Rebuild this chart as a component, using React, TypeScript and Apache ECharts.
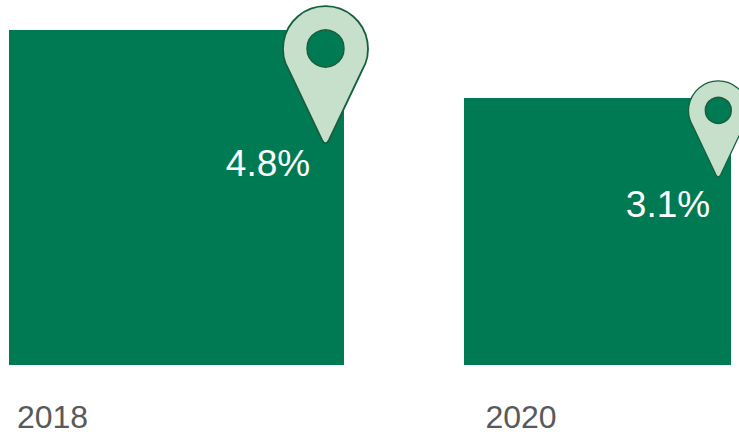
import React, { useEffect, useRef } from "react";
import * as echarts from "echarts";

const categories = ["2018", "2020"];
const values = [4.8, 3.1];
// Area of each square (labels are rounded)
const areas = [4.8, 3.05];

const GREEN = "#007a53";
const PIN_FILL = "#c6e0cb";
const PIN_STROKE = "#17603f";
const FONT = '"Liberation Sans", Arial, sans-serif';

// Presentation offsets, in pixels, relative to each year's axis tick
const SQUARE_OFFSET = [-43.5, -57];
const PIN_OFFSET = [273, 197.3];
const PIN_TOP_OFFSET = [18.5, 12.5];
const PIN_SCALE = [1, 0.7];
const LABEL_OFFSET = [215.5, 147];
const LABEL_TOP_OFFSET = [133.5, 106.5];

const PIN_PATH =
  "M -3.5 91.5 L -36.5 22 A 42.5 42.5 0 1 1 36.5 22 L 3.5 91.5 Q 0 98 -3.5 91.5 Z";
echarts.graphic.registerShape("pin", echarts.graphic.extendPath(PIN_PATH, {}) as any);

export default function App() {
  const ref = useRef<HTMLDivElement>(null);
  useEffect(() => {
    document.body.style.margin = "0";
    document.body.style.overflow = "hidden";
    const chart = echarts.init(ref.current!, null, { renderer: "svg" });
    chart.setOption({
      animation: false,
      backgroundColor: "#ffffff",
      grid: { left: 52.5, width: 468.5, top: 28.6, height: 336.4 },
      xAxis: {
        type: "category",
        data: categories,
        boundaryGap: false,
        axisLine: { show: false },
        axisTick: { show: false },
        splitLine: { show: false },
        axisLabel: {
          color: "#595959",
          fontSize: 32,
          lineHeight: 30,
          fontFamily: FONT,
          margin: 37,
          interval: 0,
        },
      },
      yAxis: { type: "value", min: 0, max: 2.2, show: false },
      series: [
        {
          type: "custom",
          clip: false,
          data: values.map((v, i) => [i, Math.sqrt(areas[i]), v]),
          encode: { x: 0, y: 1 },
          renderItem: (params: any, api: any) => {
            const i = api.value(0) as number;
            const base = api.coord([i, 0]);
            const side = api.size([0, api.value(1)])[1];
            const left = base[0] + SQUARE_OFFSET[i];
            const top = base[1] - side;
            const pinX = base[0] + PIN_OFFSET[i];
            const pinY = top + PIN_TOP_OFFSET[i];
            const s = PIN_SCALE[i];
            return {
              type: "group",
              children: [
                {
                  type: "rect",
                  shape: { x: left, y: top, width: side, height: side },
                  style: { fill: GREEN },
                },
                {
                  type: "pin",
                  x: pinX,
                  y: pinY,
                  scaleX: s,
                  scaleY: s,
                  style: { fill: PIN_FILL, stroke: PIN_STROKE, lineWidth: 1.8 },
                },
                {
                  type: "circle",
                  shape: { cx: pinX, cy: pinY, r: 18.5 * s },
                  style: { fill: GREEN, stroke: PIN_STROKE, lineWidth: 1.5 },
                },
                {
                  type: "text",
                  x: base[0] + LABEL_OFFSET[i],
                  y: top + LABEL_TOP_OFFSET[i],
                  style: {
                    text: api.value(2).toFixed(1) + "%",
                    fill: "#ffffff",
                    fontSize: 37,
                    fontFamily: FONT,
                    align: "center",
                    verticalAlign: "middle",
                  },
                },
              ],
            };
          },
        },
      ],
    });
    return () => chart.dispose();
  }, []);
  return <div ref={ref} style={{ width: 739, height: 434 }} />;
}
